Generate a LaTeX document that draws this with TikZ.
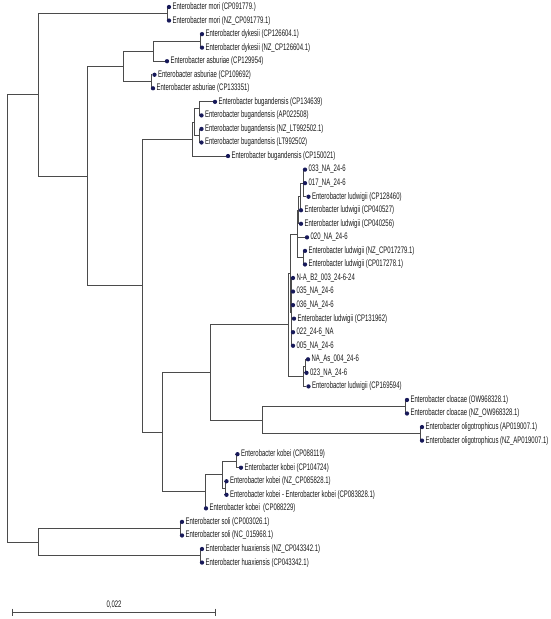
\documentclass[tikz,border=0pt]{standalone}
\usepackage{fontspec}
\usepackage{graphicx}
\newfontfamily\treefont{Liberation Sans}
\usetikzlibrary{backgrounds}
\definecolor{tipblue}{RGB}{24,26,90}
\definecolor{branchgray}{RGB}{75,75,75}
\newcommand{\tx}[1]{\scalebox{0.63}[1]{#1}}
\begin{document}
\begin{tikzpicture}[x=1pt, y=-1pt,
    tip/.style={circle, fill=tipblue, inner sep=0pt, minimum size=4.3pt},
    lab/.style={font=\treefont\fontsize{9.5}{10}\selectfont, text=black!90, inner sep=1.1pt},
    branch/.style={draw=branchgray, line width=0.75pt}]
    \useasboundingbox (0,0) rectangle (550,619);

    % Leaves (tips with taxon labels)
    \node[tip, label={[lab]right:\tx{Enterobacter mori (CP091779.)}}] (l1) at (169, 7.0) {};
    \node[tip, label={[lab]right:\tx{Enterobacter mori (NZ\_CP091779.1)}}] (l2) at (169, 20.55) {};
    \node[tip, label={[lab]right:\tx{Enterobacter dykesii (CP126604.1)}}] (l3) at (202, 34.1) {};
    \node[tip, label={[lab]right:\tx{Enterobacter dykesii (NZ\_CP126604.1)}}] (l4) at (202, 47.65) {};
    \node[tip, label={[lab]right:\tx{Enterobacter asburiae (CP129954)}}] (l5) at (167, 61.2) {};
    \node[tip, label={[lab]right:\tx{Enterobacter asburiae (CP109692)}}] (l6) at (154.5, 74.75) {};
    \node[tip, label={[lab]right:\tx{Enterobacter asburiae (CP133351)}}] (l7) at (153, 88.3) {};
    \node[tip, label={[lab]right:\tx{Enterobacter bugandensis (CP134639)}}] (l8) at (215, 101.85) {};
    \node[tip, label={[lab]right:\tx{Enterobacter bugandensis (AP022508)}}] (l9) at (201.5, 115.4) {};
    \node[tip, label={[lab]right:\tx{Enterobacter bugandensis (NZ\_LT992502.1)}}] (l10) at (201.5, 128.95) {};
    \node[tip, label={[lab]right:\tx{Enterobacter bugandensis (LT992502)}}] (l11) at (201.5, 142.5) {};
    \node[tip, label={[lab]right:\tx{Enterobacter bugandensis (CP150021)}}] (l12) at (228, 156.05) {};
    \node[tip, label={[lab]right:\tx{033\_NA\_24-6}}] (l13) at (305, 169.6) {};
    \node[tip, label={[lab]right:\tx{017\_NA\_24-6}}] (l14) at (305, 183.15) {};
    \node[tip, label={[lab]right:\tx{Enterobacter ludwigii (CP128460)}}] (l15) at (308.5, 196.7) {};
    \node[tip, label={[lab]right:\tx{Enterobacter ludwigii (CP040527)}}] (l16) at (301, 210.25) {};
    \node[tip, label={[lab]right:\tx{Enterobacter ludwigii (CP040256)}}] (l17) at (301, 223.8) {};
    \node[tip, label={[lab]right:\tx{020\_NA\_24-6}}] (l18) at (307, 237.35) {};
    \node[tip, label={[lab]right:\tx{Enterobacter ludwigii (NZ\_CP017279.1)}}] (l19) at (305, 250.9) {};
    \node[tip, label={[lab]right:\tx{Enterobacter ludwigii (CP017278.1)}}] (l20) at (305, 264.45) {};
    \node[tip, label={[lab]right:\tx{N-A\_B2\_003\_24-6-24}}] (l21) at (293, 278.0) {};
    \node[tip, label={[lab]right:\tx{035\_NA\_24-6}}] (l22) at (293, 291.55) {};
    \node[tip, label={[lab]right:\tx{036\_NA\_24-6}}] (l23) at (293, 305.1) {};
    \node[tip, label={[lab]right:\tx{Enterobacter ludwigii (CP131962)}}] (l24) at (294, 318.65) {};
    \node[tip, label={[lab]right:\tx{022\_24-6\_NA}}] (l25) at (293, 332.2) {};
    \node[tip, label={[lab]right:\tx{005\_NA\_24-6}}] (l26) at (293, 345.75) {};
    \node[tip, label={[lab]right:\tx{NA\_As\_004\_24-6}}] (l27) at (308, 359.3) {};
    \node[tip, label={[lab]right:\tx{023\_NA\_24-6}}] (l28) at (306.5, 372.85) {};
    \node[tip, label={[lab]right:\tx{Enterobacter ludwigii (CP169594)}}] (l29) at (308.5, 386.4) {};
    \node[tip, label={[lab]right:\tx{Enterobacter cloacae (OW968328.1)}}] (l30) at (407, 399.95) {};
    \node[tip, label={[lab]right:\tx{Enterobacter cloacae (NZ\_OW968328.1)}}] (l31) at (407, 413.5) {};
    \node[tip, label={[lab]right:\tx{Enterobacter oligotrophicus (AP019007.1)}}] (l32) at (422, 427.05) {};
    \node[tip, label={[lab]right:\tx{Enterobacter oligotrophicus (NZ\_AP019007.1)}}] (l33) at (422, 440.6) {};
    \node[tip, label={[lab]right:\tx{Enterobacter kobei (CP088119)}}] (l34) at (237.5, 454.15) {};
    \node[tip, label={[lab]right:\tx{Enterobacter kobei (CP104724)}}] (l35) at (241, 467.7) {};
    \node[tip, label={[lab]right:\tx{Enterobacter kobei (NZ\_CP085828.1)}}] (l36) at (226.5, 481.25) {};
    \node[tip, label={[lab]right:\tx{Enterobacter kobei - Enterobacter kobei (CP083828.1)}}] (l37) at (226.5, 494.8) {};
    \node[tip, label={[lab]right:\tx{Enterobacter kobei \ (CP088229)}}] (l38) at (206, 508.35) {};
    \node[tip, label={[lab]right:\tx{Enterobacter soli (CP003026.1)}}] (l39) at (182, 521.9) {};
    \node[tip, label={[lab]right:\tx{Enterobacter soli (NC\_015968.1)}}] (l40) at (182, 535.45) {};
    \node[tip, label={[lab]right:\tx{Enterobacter huaxiensis (NZ\_CP043342.1)}}] (l41) at (202, 549.0) {};
    \node[tip, label={[lab]right:\tx{Enterobacter huaxiensis (CP043342.1)}}] (l42) at (202, 562.55) {};

    % Internal nodes
    \coordinate (root) at (7, 318.5);
    \coordinate (nA) at (38, 94.84);
    \coordinate (nB) at (38, 542.23);
    \coordinate (nmori) at (167, 13.78);
    \coordinate (nC) at (87, 175.9);
    \coordinate (nD) at (123, 66.28);
    \coordinate (nF) at (153, 51.04);
    \coordinate (ndyk) at (200, 40.88);
    \coordinate (nG) at (151, 81.53);
    \coordinate (nE) at (142, 285.52);
    \coordinate (nbug) at (192, 139.11);
    \coordinate (nJK) at (194, 122.18);
    \coordinate (nJ) at (199.5, 108.63);
    \coordinate (nK) at (199.5, 135.73);
    \coordinate (nI) at (162, 431.92);
    \coordinate (nL) at (210, 372.43);
    \coordinate (nQ) at (288.5, 324.58);
    \coordinate (nT) at (290, 272.92);
    \coordinate (nU) at (291, 311.88);
    \coordinate (nS) at (297, 233.96);
    \coordinate (na3) at (298.5, 210.25);
    \coordinate (na2) at (300, 196.7);
    \coordinate (na0) at (303, 183.15);
    \coordinate (nb) at (303, 257.68);
    \coordinate (nR) at (303, 376.24);
    \coordinate (nR1) at (305, 366.08);
    \coordinate (nN) at (262, 420.28);
    \coordinate (nclo) at (405, 406.73);
    \coordinate (noli) at (420, 433.83);
    \coordinate (nM) at (205, 491.41);
    \coordinate (nP) at (222, 474.48);
    \coordinate (nP1) at (236, 460.93);
    \coordinate (nP2) at (225, 488.03);
    \coordinate (nsoli) at (180, 528.68);
    \coordinate (nhua) at (200, 555.78);

    % Branches (parent/child)
    \begin{scope}[on background layer]
    \foreach \p/\c in {root/nA, root/nB, nA/nmori, nA/nC, nmori/l1, nmori/l2,
        nC/nD, nC/nE, nD/nF, nD/nG, nF/ndyk, nF/l5, ndyk/l3, ndyk/l4, nG/l6, nG/l7,
        nE/nbug, nE/nI, nbug/nJK, nbug/l12, nJK/nJ, nJK/nK, nJ/l8, nJ/l9, nK/l10, nK/l11,
        nI/nL, nI/nM, nL/nQ, nL/nN, nQ/nT, nQ/nR, nT/nS, nT/nU,
        nS/na3, nS/l18, nS/nb, na3/na2, na3/l17, na2/na0, na2/l16,
        na0/l13, na0/l14, na0/l15, nb/l19, nb/l20,
        nU/l21, nU/l22, nU/l23, nU/l24, nU/l25, nU/l26,
        nR/nR1, nR/l29, nR1/l27, nR1/l28,
        nN/nclo, nN/noli, nclo/l30, nclo/l31, noli/l32, noli/l33,
        nM/nP, nM/l38, nP/nP1, nP/nP2, nP1/l34, nP1/l35, nP2/l36, nP2/l37,
        nB/nsoli, nB/nhua, nsoli/l39, nsoli/l40, nhua/l41, nhua/l42}
        \draw[branch] (\p) |- (\c);
    \end{scope}

    % Scale bar
    \coordinate (bar0) at (12, 612);
    \coordinate (bar1) at (216, 612);
    \draw[branch, |-|] (bar0) -- node[lab, above=1.5pt] {\tx{0,022}} (bar1);
\end{tikzpicture}
\end{document}
